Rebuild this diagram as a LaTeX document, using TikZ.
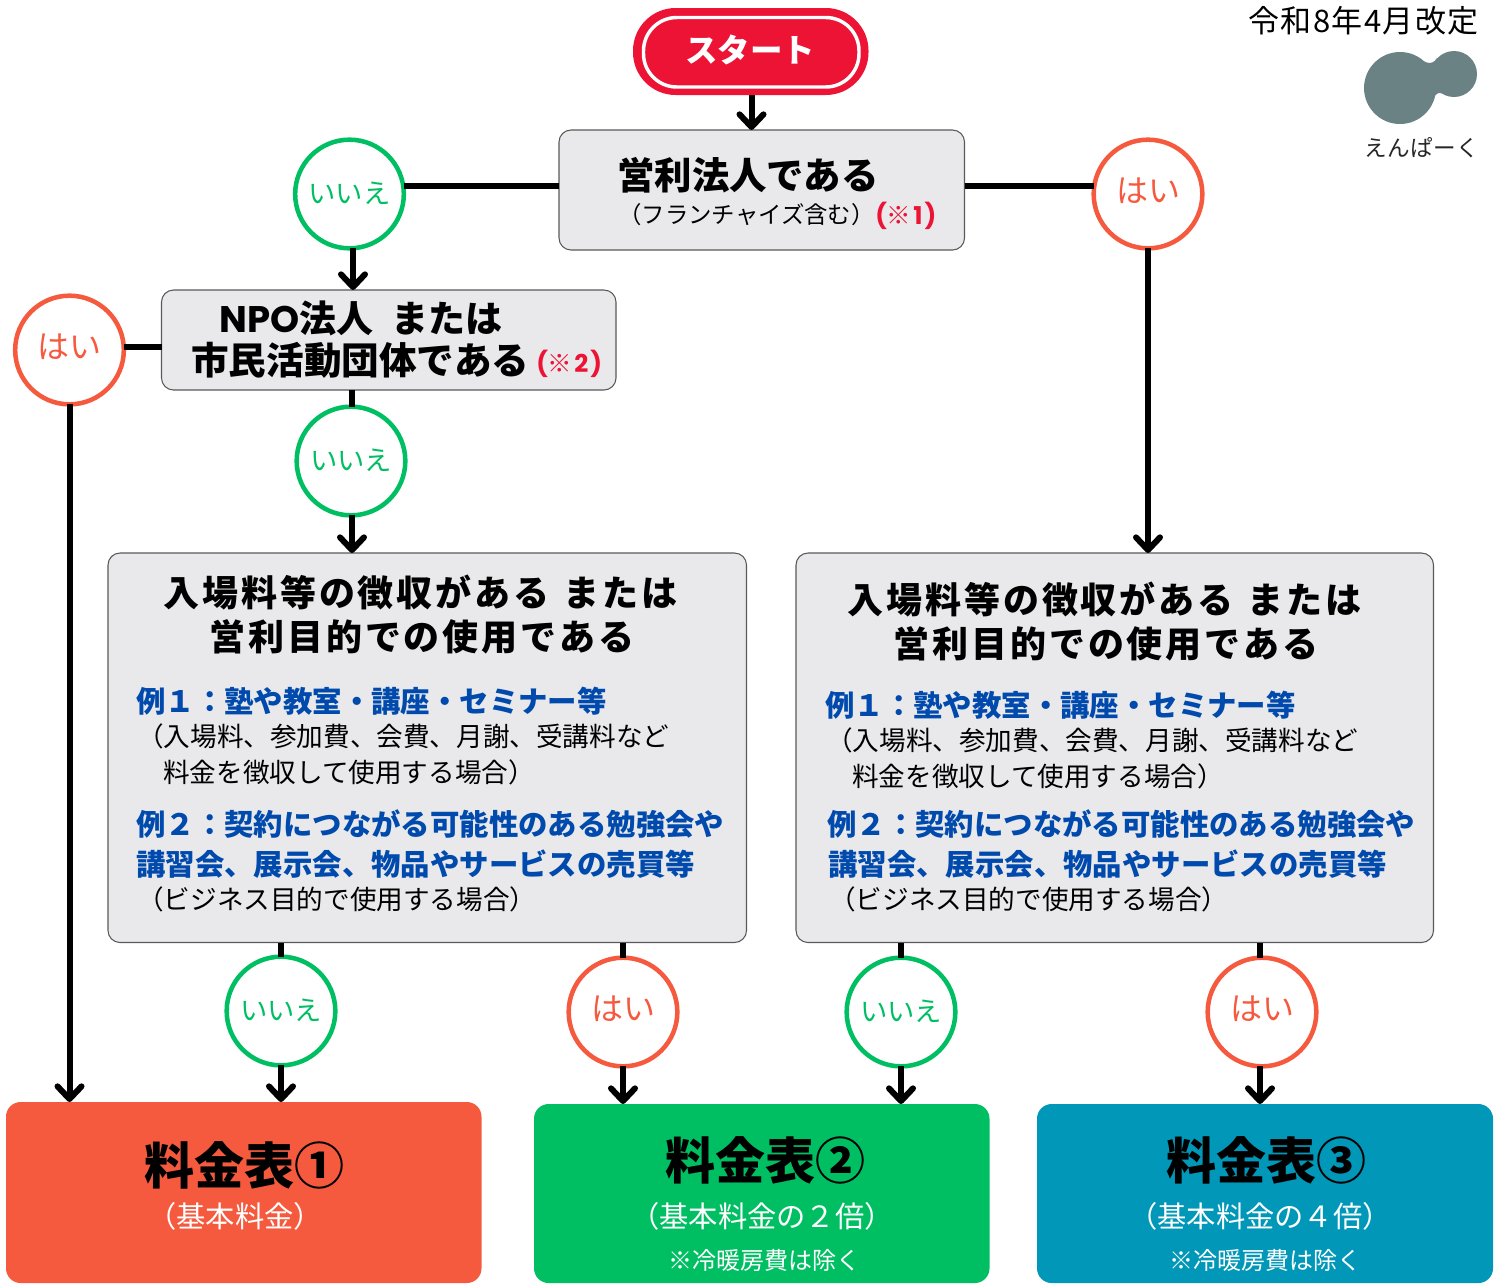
\documentclass[tikz,border=0pt]{standalone}
\usepackage{fontspec}
\setmainfont{Noto Sans CJK JP}
\newfontfamily\popf{Poppins}
\usetikzlibrary{arrows.meta,calc}
\definecolor{redc}{HTML}{EC1334}
\definecolor{boxc}{HTML}{E9E9EB}
\definecolor{greenc}{HTML}{00BF63}
\definecolor{orangec}{HTML}{F55A3F}
\definecolor{tealc}{HTML}{0097B8}
\definecolor{bluec}{HTML}{004AAD}
\definecolor{logoc}{HTML}{6B8285}
\tikzset{
  px/.style={inner sep=0pt,outer sep=0pt},
  qbox/.style={px,rectangle,rounded corners=9pt,fill=boxc,draw=black!65,line width=.8pt},
  rbox/.style={px,rectangle,rounded corners=11pt},
  yesq/.style={px,circle,minimum size=81.5pt,fill=white,draw=orangec,line width=3.4pt,text=orangec},
  noq/.style={px,circle,minimum size=81.5pt,fill=white,draw=greenc,line width=3.4pt,text=greenc},
  conn/.style={line width=4.5pt,black},
  arr/.style={conn,-{Straight Barb[length=9.5pt,width=18pt,round]}},
}
\newcommand\bx[7]{% name x1 y1 x2 y2 style
  \pgfmathsetmacro\bw{(#4-#2)*.75}\pgfmathsetmacro\bh{(#5-#3)*.75}%
  \node[#6,minimum width=\bw pt,minimum height=\bh pt] (#1) at ({(#2+#4)/2},{(#3+#5)/2}) {#7};}
\newcommand\tx[7]{% name anchor pos sizepx spacing colour text
  \pgfmathsetmacro\sz{#4*.75}%
  \node[anchor=#2,inner sep=0pt,text=#6] (#1) at #3 {\fontsize{\sz pt}{\sz pt}\selectfont\addfontfeature{LetterSpace=#5}#7};}
\newcommand\iie{\raisebox{1.5pt}{\fontsize{20.5pt}{20.5pt}\selectfont いいえ}}
\newcommand\hai{\raisebox{6.5pt}{\fontsize{24pt}{24pt}\selectfont はい}}
\begin{document}
\begin{tikzpicture}[x=.75pt,y=-.75pt]
\useasboundingbox (0,0) rectangle (1501,1283);
% boxes
\bx{startbox}{633}{8}{868.5}{95}{px,rectangle,rounded corners=32pt,fill=redc}{}
\draw[white,line width=2.6pt,rounded corners=25pt] (643.5,17.5) rectangle (859,87);
\bx{q1}{559}{130}{964.5}{250}{qbox}{}
\bx{q2}{161.5}{290}{616}{390}{qbox}{}
\bx{q3}{108}{553}{746.5}{942.5}{qbox}{}
\bx{q4}{796}{553}{1433.5}{942.5}{qbox}{}
\bx{r1}{6}{1102}{481.5}{1283}{rbox,fill=orangec}{}
\bx{r2}{534}{1104}{989.5}{1283}{rbox,fill=greenc}{}
\bx{r3}{1037}{1104}{1493}{1283}{rbox,fill=tealc}{}
% decision circles
\node[noq] (n1) at (349.5,194) {\iie};
\node[yesq] (y1) at (1148,194) {\hai};
\node[yesq] (y2) at (69.5,350) {\hai};
\node[noq] (n2) at (351,461) {\iie};
\node[noq] (n3) at (281,1011) {\iie};
\node[yesq] (y3) at (623,1012) {\hai};
\node[noq] (n4) at (901,1012) {\iie};
\node[yesq] (y4) at (1262,1012) {\hai};
% connectors
\coordinate (a0) at (751.5,0);
\draw[arr] (a0 |- startbox.south) -- (a0 |- q1.north);
\coordinate (h1) at (0,186);
\draw[conn] (q1.west |- h1) -- (n1.east |- h1);
\draw[conn] (q1.east |- h1) -- (y1.west |- h1);
\coordinate (a1) at (353,0);
\draw[arr] (a1 |- n1.south) -- (a1 |- q2.north);
\coordinate (h2) at (0,347);
\draw[conn] (q2.west |- h2) -- (y2.east |- h2);
\coordinate (a2) at (352,0);
\draw[conn] (a2 |- q2.south) -- (a2 |- n2.north);
\draw[arr] (a2 |- n2.south) -- (a2 |- q3.north);
\draw[arr] (y1.south) -- (y1.south |- q4.north);
\draw[arr] (y2.south) -- (y2.south |- r1.north);
\draw[conn] (n3.north |- q3.south) -- (n3.north);
\draw[arr] (n3.south) -- (n3.south |- r1.north);
\draw[conn] (y3.north |- q3.south) -- (y3.north);
\draw[arr] (y3.south) -- (y3.south |- r2.north);
\draw[conn] (n4.north |- q4.south) -- (n4.north);
\draw[arr] (n4.south) -- (n4.south |- r2.north);
\coordinate (a4) at (1260,0);
\draw[conn] (a4 |- q4.south) -- (a4 |- y4.north);
\draw[arr] (a4 |- y4.south) -- (a4 |- r3.north);
% texts
\tx{tdate}{base west}{(1248,32)}{31}{4.6}{black}{令和8年4月改定}
\tx{tstart}{center}{(750,50)}{32.5}{0}{white}{\bfseries スタート}
\tx{t1}{base west}{(617,189)}{37.4}{0}{black}{\bfseries 営利法人である}
\tx{t1b}{base west}{(618,223)}{23.4}{0}{black}{（フランチャイズ含む）}
\tx{t1c}{base west}{(875,224)}{24.5}{0}{redc}{\bfseries{\popf (}※\hspace{1.5pt}{\popf 1\hspace{1.5pt})}}
\tx{t2}{base west}{(219,332)}{37}{0}{black}{\bfseries{\popf NPO}法人\hspace{14pt}または}
\tx{t2b}{base west}{(191,374)}{37.6}{0}{black}{\bfseries 市民活動団体である}
\tx{t2c}{base west}{(536,372)}{24.5}{0}{redc}{\bfseries{\popf (}※\hspace{1.5pt}{\popf 2\hspace{1.5pt})}}
% left large box
\tx{a1t}{base west}{(163,606)}{36}{8.2}{black}{\bfseries 入場料等の徴収がある\hspace{2pt} または}
\tx{a2t}{base west}{(209,650)}{36}{8.2}{black}{\bfseries 営利目的での使用である}
\tx{a3t}{base west}{(136,712)}{29.4}{0}{bluec}{\bfseries 例１：塾や教室・講座・セミナー等}
\tx{a4t}{base west}{(137,746)}{26.6}{0}{black}{（入場料、参加費、会費、月謝、受講料など}
\tx{a5t}{base west}{(163,782)}{26.6}{0}{black}{料金を徴収して使用する場合）}
\tx{a6t}{base west}{(136,835)}{29.4}{0}{bluec}{\bfseries 例２：契約につながる可能性のある勉強会や}
\tx{a7t}{base west}{(136,875)}{29.4}{0}{bluec}{\bfseries 講習会、展示会、物品やサービスの売買等}
\tx{a8t}{base west}{(137,909)}{26.6}{0}{black}{（ビジネス目的で使用する場合）}
% right large box
\tx{b1t}{base west}{(847,613)}{36}{8.2}{black}{\bfseries 入場料等の徴収がある\hspace{2pt} または}
\tx{b2t}{base west}{(893,657)}{36}{8.2}{black}{\bfseries 営利目的での使用である}
\tx{b3t}{base west}{(825,716)}{29.4}{0}{bluec}{\bfseries 例１：塾や教室・講座・セミナー等}
\tx{b4t}{base west}{(826,750)}{26.6}{0}{black}{（入場料、参加費、会費、月謝、受講料など}
\tx{b5t}{base west}{(852,786)}{26.6}{0}{black}{料金を徴収して使用する場合）}
\tx{b6t}{base west}{(827,835)}{29.4}{0}{bluec}{\bfseries 例２：契約につながる可能性のある勉強会や}
\tx{b7t}{base west}{(828,875)}{29.4}{0}{bluec}{\bfseries 講習会、展示会、物品やサービスの売買等}
\tx{b8t}{base west}{(829,909)}{26.6}{0}{black}{（ビジネス目的で使用する場合）}
% result boxes
\tx{c1t}{base west}{(144,1184)}{50}{0}{black}{\bfseries 料金表①}
\tx{c2t}{base}{(235,1227)}{29.3}{0}{white}{（基本料金）}
\tx{d1t}{base west}{(665,1179)}{50}{0}{black}{\bfseries 料金表②}
\tx{d2t}{base}{(762,1227)}{29.3}{0}{white}{（基本料金の２倍）}
\tx{d3t}{base}{(764.5,1269)}{24}{0}{white}{※冷暖房費は除く}
\tx{e1t}{base west}{(1166,1179)}{50}{0}{black}{\bfseries 料金表③}
\tx{e2t}{base}{(1260,1227)}{29.3}{0}{white}{（基本料金の４倍）}
\tx{e3t}{base}{(1265.5,1269)}{24}{0}{white}{※冷暖房費は除く}
% logo
\fill[logoc] (1400,88) circle[radius=36];
\fill[logoc] (1454,74) circle[radius=23];
\fill[logoc] (1416,56) .. controls (1423,62) and (1432,67) .. (1437,58) -- (1442,93) .. controls (1436,92) and (1434,96) .. (1432,103) -- (1400,88) -- cycle;
\tx{logot}{base west}{(1364,156)}{22.6}{1.5}{black!85}{えんぱーく}
\end{tikzpicture}
\end{document}
